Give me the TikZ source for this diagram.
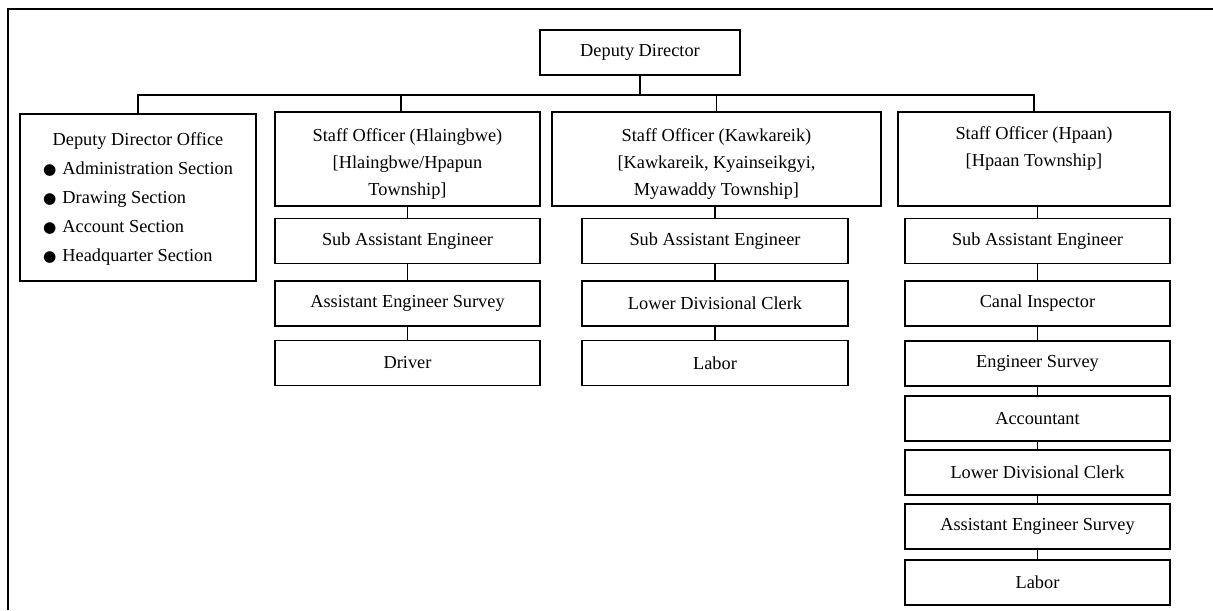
\documentclass[tikz,border=0pt]{standalone}
\usepackage{fontspec}
\setmainfont{Liberation Serif}
\newfontfamily\symfont{DejaVu Sans}

\newcommand{\px}{0.655pt}
\newcommand{\bul}{{\symfont\fontsize{10}{10}\selectfont ●}\hspace{4pt}}
\newcommand{\topgap}{\rule{0pt}{15pt}}

\tikzset{
  post/.style={draw, line width=1pt, inner sep=0pt, align=center,
    minimum width=265*\px, minimum height=45*\px,
    font=\fontsize{12}{17.4}\selectfont},
  link/.style={line width=1pt},
}

\begin{document}
\begin{tikzpicture}[x=\px,y=-\px]
    \useasboundingbox (0,0) rectangle (1213,610);

    % Frame
    \draw [line width=1.1pt] (8,610) -- (8,9) -- (1213,9);

    % Head
    \node [post, minimum width=200*\px] (dd) at (640,52.5) {Deputy Director};

    % Office
    \node [post, minimum width=236*\px, minimum height=167*\px] (ddo) at (138,197.5)
      {\renewcommand{\arraystretch}{1.09}%
       \begin{tabular}{@{}l@{}}
         \multicolumn{1}{@{}c@{}}{Deputy Director Office}\\
         \bul Administration Section\\
         \bul Drawing Section\\
         \bul Account Section\\
         \bul Headquarter Section
       \end{tabular}};

    % Staff officers
    \node [post, minimum height=94*\px] (hso) at (407.5,159)
      {\topgap Staff Officer (Hlaingbwe)\\ {[}Hlaingbwe/Hpapun\\ Township{]}};
    \node [post, minimum width=329*\px, minimum height=94*\px] (kso) at (716.5,159)
      {\topgap Staff Officer (Kawkareik)\\ {[}Kawkareik, Kyainseikgyi,\\ Myawaddy Township{]}};
    \node [post, minimum width=272*\px, minimum height=94*\px] (pso) at (1034,159)
      {\topgap Staff Officer (Hpaan)\\ {[}Hpaan Township{]}\\ \strut};

    % Hlaingbwe column
    \node [post] (hsae) at (407.5,241) {Sub Assistant Engineer};
    \node [post] (haes) at (407.5,303.5) {Assistant Engineer Survey};
    \node [post] (hdrv) at (407.5,363) {Driver};

    % Kawkareik column
    \node [post, minimum width=266*\px] (ksae) at (715,241) {Sub Assistant Engineer};
    \node [post, minimum width=266*\px] (kldc) at (715,303.5) {Lower Divisional Clerk};
    \node [post, minimum width=266*\px] (klab) at (715,363) {Labor};

    % Hpaan column
    \node [post] (psae) at (1037.5,241) {Sub Assistant Engineer};
    \node [post] (pci) at (1037.5,303.5) {Canal Inspector};
    \node [post] (pes) at (1037.5,363.5) {Engineer Survey};
    \node [post] (pacc) at (1037.5,418.5) {Accountant};
    \node [post] (pldc) at (1037.5,472.5) {Lower Divisional Clerk};
    \node [post] (paes) at (1037.5,526.5) {Assistant Engineer Survey};
    \node [post] (plab) at (1037.5,582.5) {Labor};

    % Bus lines
    \coordinate (bus) at (640,95);
    \draw [link] (dd.south) -- (bus);
    \draw [link] (bus) -| (ddo.north);
    \draw [link] (bus) -| ([xshift=-4.3pt]hso.north);
    \draw [link] (bus) -| (kso.north);
    \draw [link] (bus) -| (pso.north);

    % Chains
    \draw [link] (hso) -- (hsae) -- (haes) -- (hdrv);
    \draw [link] (ksae.north |- kso.south) -- (ksae.north);
    \draw [link] (ksae) -- (kldc) -- (klab);
    \draw [link] (psae.north |- pso.south) -- (psae.north);
    \draw [link] (psae) -- (pci) -- (pes) -- (pacc) -- (pldc) -- (paes) -- (plab);
\end{tikzpicture}
\end{document}
